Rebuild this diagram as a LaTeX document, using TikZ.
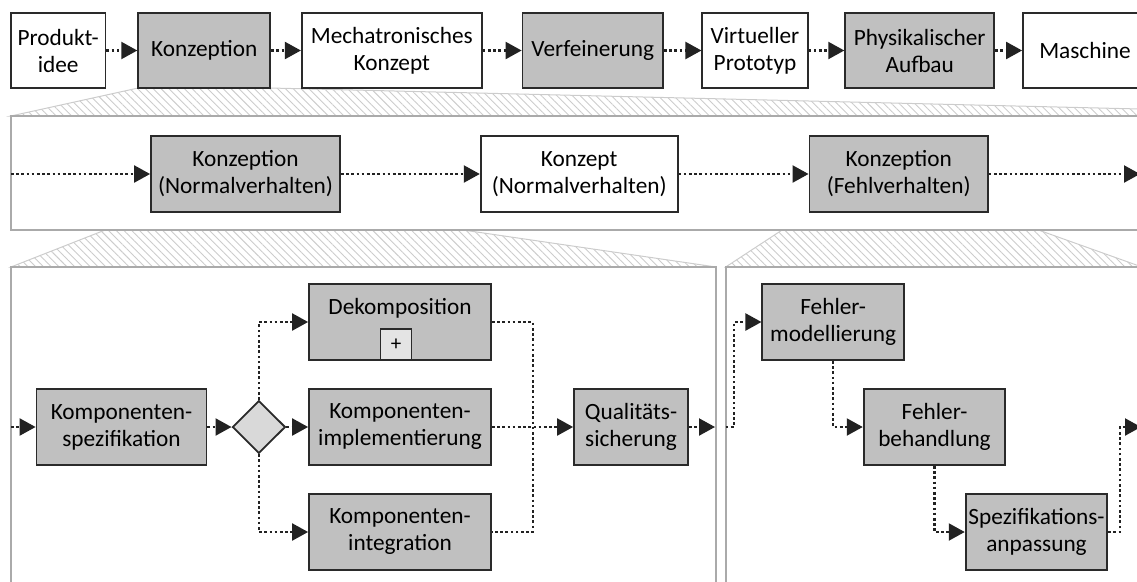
\documentclass[tikz,border=0pt]{standalone}
\usepackage{fontspec}
\setmainfont{Carlito}
\usetikzlibrary{arrows.meta,shapes.geometric,patterns.meta}
\definecolor{boxgray}{HTML}{C0C0C0}
\definecolor{boxline}{HTML}{2A2A2A}
\definecolor{panelline}{HTML}{AAAAAA}
\definecolor{hatchc}{HTML}{CCCCCC}
\definecolor{flowc}{HTML}{222222}
\definecolor{gatefill}{HTML}{D9D9D9}
\definecolor{plusfill}{HTML}{E4E4E4}
\tikzset{
  gbox/.style={draw=boxline, line width=1.8pt, fill=boxgray, align=center,
    inner sep=0pt, minimum height=75pt},
  wbox/.style={gbox, fill=white},
  flow/.style={draw=flowc, line width=2.2pt, dash pattern=on 2.6pt off 2.6pt},
  arr/.style={flow, -{Triangle[length=16pt,width=17pt]}},
  panel/.style={draw=panelline, line width=2pt},
  zoomfan/.style={draw=hatchc, line width=1pt,
    pattern={Lines[angle=-45,distance=5.5pt,line width=0.9pt]}, pattern color=hatchc},
}
\begin{document}
\begin{tikzpicture}[x=1pt, y=-1pt, font=\fontsize{23.3}{27}\selectfont]
\useasboundingbox (0,0) rectangle (1137,581);
\clip (0,0) rectangle (1137,581);

% zoom fans (hatched trapezoids)
\path[zoomfan] (138.2,88) -- (270.2,88) -- (1430,116) -- (10.9,116) -- cycle;
\path[zoomfan] (151,212) -- (340,212) -- (716,267) -- (10.9,267) -- cycle;
\path[zoomfan] (809.5,212) -- (988,212) -- (1142,267) -- (725.7,267) -- cycle;

% panels
\draw[panel, fill=white] (10.9,116) rectangle (1300,230);
\draw[panel, fill=white] (10.9,620) -- (10.9,267) -- (716,267) -- (716,620);
\draw[panel, fill=white] (725.7,620) -- (725.7,267) -- (1300,267) -- (1300,620);

% top process chain
\node[wbox, minimum width=94.6pt] (idee) at (58.2,50.5) {Produkt-\\idee};
\node[gbox, minimum width=132pt] (konz) at (204.2,50.5) {Konzeption};
\node[wbox, minimum width=180pt] (mech) at (391.8,50.5) {Mechatronisches\\Konzept};
\node[gbox, minimum width=140.6pt] (verf) at (592.8,50.5) {Verfeinerung};
\node[wbox, minimum width=105.3pt] (virt) at (755,50.5) {Virtueller\\Prototyp};
\node[gbox, minimum width=149pt] (phys) at (919.7,50.5) {Physikalischer\\Aufbau};
\node[wbox, minimum width=124pt] (masch) at (1085,50.5) {Maschine};
\draw[arr] (idee) -- (konz);
\draw[arr] (konz) -- (mech);
\draw[arr] (mech) -- (verf);
\draw[arr] (verf) -- (virt);
\draw[arr] (virt) -- (phys);
\draw[arr] (phys) -- (masch);

% second level
\coordinate (pin) at (10.9,174);
\coordinate (pout) at (1140,174);
\node[gbox, minimum width=189pt, minimum height=76pt] (kn) at (245.5,174) {Konzeption\\(Normalverhalten)};
\node[wbox, minimum width=197pt, minimum height=76pt] (kc) at (579.2,174) {Konzept\\(Normalverhalten)};
\node[gbox, minimum width=178.5pt, minimum height=76pt] (kf) at (898.7,174) {Konzeption\\(Fehlverhalten)};
\draw[arr] (pin) -- (kn);
\draw[arr] (kn) -- (kc);
\draw[arr] (kc) -- (kf);
\draw[arr] (kf) -- (pout);

% third level, normal behaviour
\coordinate (nin) at (10.9,427);
\coordinate (nout) at (715,427);
\node[gbox, minimum width=170pt, minimum height=76pt] (ks) at (121.5,427) {Komponenten-\\spezifikation};
\node[diamond, draw=boxline, line width=1.8pt, fill=gatefill, inner sep=0pt,
  minimum width=53pt, minimum height=52.6pt] (gate) at (258.9,427) {};
\node[gbox, minimum width=182pt, minimum height=76pt] (dek) at (400,322) {};
\node (dektext) at (400,308) {Dekomposition};
\node[draw=boxline, line width=1.8pt, fill=plusfill, minimum width=31pt, minimum height=31pt,
  inner sep=0pt, font=\fontsize{21}{24}\selectfont] (plus) at (396,344.7) {+};
\node[gbox, minimum width=182pt, minimum height=76pt] (kimp) at (400,427) {Komponenten-\\implementierung};
\node[gbox, minimum width=182pt, minimum height=76pt] (kint) at (400,532) {Komponenten-\\integration};
\node[gbox, minimum width=114pt, minimum height=76pt] (qs) at (631,427) {Qualitäts-\\sicherung};
\coordinate (mtop) at (532.7,322);
\coordinate (mbot) at (532.7,532);
\draw[arr] (nin) -- (ks);
\draw[arr] (ks) -- (gate);
\draw[arr] (gate.north) |- (dek.west);
\draw[arr] (gate) -- (kimp);
\draw[arr] (gate.south) |- (kint.west);
\draw[flow] (dek.east) -- (mtop) -- (mbot) -- (kint.east);
\draw[arr] (kimp) -- (qs);
\draw[arr] (qs) -- (nout);

% third level, fault behaviour
\coordinate (fin) at (725.7,427);
\coordinate (fa) at (734,427);
\coordinate (fb) at (734,322);
\coordinate (sa1) at (1120,532);
\coordinate (sa2) at (1120,427);
\coordinate (fout) at (1141,427);
\node[gbox, minimum width=141.7pt, minimum height=76pt] (fm) at (833.2,322) {Fehler-\\modellierung};
\node[gbox, minimum width=141.7pt, minimum height=76pt] (fbh) at (934.5,427) {Fehler-\\behandlung};
\node[gbox, minimum width=141.7pt, minimum height=76pt] (spa) at (1036.5,532) {Spezifikations-\\anpassung};
\draw[arr] (fin) -- (fa) -- (fb) -- (fm.west);
\draw[arr] (fm.south) |- (fbh.west);
\draw[arr] (fbh.south) |- (spa.west);
\draw[arr] (spa.east) -- (sa1) -- (sa2) -- (fout);
\end{tikzpicture}
\end{document}
